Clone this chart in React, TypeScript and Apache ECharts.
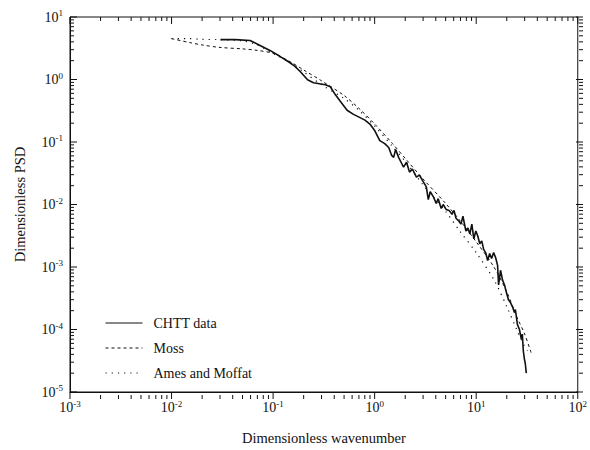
import React, { useEffect, useRef } from "react";
import * as echarts from "echarts";

// Dimensionless wavenumber / PSD
const chttK = [0.0303, 0.0424, 0.0594, 0.0744, 0.0931, 0.1165, 0.1394, 0.1632, 0.1866, 0.2184, 0.2498, 0.2858, 0.327, 0.366, 0.4094, 0.4685, 0.5358, 0.613, 0.7015, 0.8025, 0.898, 1.004, 1.124, 1.257, 1.375, 1.471, 1.539, 1.609, 1.721, 1.841, 1.926, 2.06, 2.203, 2.357, 2.578, 2.757, 3.016, 3.227, 3.375, 3.53, 3.776, 4.039, 4.225, 4.519, 4.726, 5.055, 5.406, 5.783, 6.048, 6.326, 6.766, 7.077, 7.401, 7.916, 8.28, 8.66, 9.06, 9.475, 9.91, 10.36, 10.84, 11.34, 11.86, 12.4, 12.97, 13.57, 14.19, 14.84, 15.52, 16.24, 16.61, 17.37, 18.17, 19.0, 19.87, 20.78, 21.74, 22.73, 23.78, 24.32, 25.44, 26.61, 27.83, 28.46, 29.1, 29.77, 30.44, 31.13];
const chttPsd = [4.35, 4.35, 4.2, 3.5, 2.92, 2.35, 1.96, 1.64, 1.32, 0.988, 0.886, 0.855, 0.825, 0.767, 0.574, 0.43, 0.322, 0.279, 0.25, 0.224, 0.194, 0.151, 0.105, 0.0942, 0.0815, 0.061, 0.0568, 0.0758, 0.0568, 0.0457, 0.0395, 0.0474, 0.033, 0.0368, 0.0275, 0.0296, 0.023, 0.0192, 0.012, 0.016, 0.0134, 0.0104, 0.0124, 0.00866, 0.01, 0.00835, 0.00805, 0.00697, 0.00805, 0.00603, 0.0054, 0.00485, 0.00648, 0.00377, 0.0042, 0.00338, 0.00485, 0.00282, 0.00377, 0.00314, 0.00235, 0.00262, 0.0019, 0.0017, 0.00127, 0.00164, 0.00137, 0.0017, 0.00142, 0.00106, 0.000516, 0.000887, 0.000618, 0.000516, 0.000386, 0.0003, 0.000269, 0.000233, 0.000187, 0.000209, 0.000121, 0.000101, 7.05e-5, 8.45e-5, 4.57e-5, 3.42e-5, 2.86e-5, 2.0e-5];

const mossK = [0.01, 0.015, 0.02, 0.03, 0.05, 0.07, 0.1, 0.15, 0.2, 0.3, 0.5, 0.7, 1, 1.5, 2, 3, 5, 7, 10, 15, 20, 25, 30, 35];
const mossPsd = [4.51, 3.91, 3.57, 3.26, 3.09, 2.92, 2.62, 1.89, 1.42, 0.953, 0.554, 0.346, 0.194, 0.0942, 0.0547, 0.0256, 0.0104, 0.0054, 0.00253, 0.000989, 0.0004, 0.000162, 8.45e-5, 4.1e-5];

const amesK = [0.01, 0.015, 0.02, 0.03, 0.05, 0.07, 0.1, 0.15, 0.2, 0.3, 0.5, 0.7, 1, 1.5, 2, 3, 5, 7, 10, 15, 20, 25, 30, 32];
const amesPsd = [4.51, 4.51, 4.38, 4.35, 4.15, 3.57, 2.62, 1.83, 1.32, 0.825, 0.497, 0.322, 0.18, 0.0845, 0.0491, 0.0206, 0.00777, 0.00363, 0.0017, 0.000618, 0.000233, 0.000101, 5.28e-5, 4.57e-5];

const xDecades = [-3, -2, -1, 0, 1, 2];
const yDecades = [-5, -4, -3, -2, -1, 0, 1];
const minorMultipliers = [2, 3, 4, 5, 6, 7, 8, 9];

const FONT = "Liberation Serif";
const INK = "#111";

const zip = (a: number[], b: number[]) => a.map((v, i) => [v, b[i]]);

const labelFmt = (v: number) => {
  const e = Math.round(Math.log10(v));
  return `{b|10}{s|${e}}`;
};

const richLabel = {
  b: { fontFamily: FONT, fontSize: 14, color: INK },
  s: { fontFamily: FONT, fontSize: 9, color: INK, padding: [0, 0, 8, 0] },
};

export default function App() {
  const ref = useRef<HTMLDivElement>(null);
  useEffect(() => {
    if (!ref.current) return;
    const chart = echarts.init(ref.current, undefined, { renderer: "svg" });
    const grid = { left: 70, right: 7, top: 17, bottom: 51 };
    chart.setOption({
      animation: false,
      backgroundColor: "#fff",
      grid: { ...grid, show: true, borderColor: INK, borderWidth: 1, backgroundColor: "transparent" },
      legend: {
        orient: "vertical",
        left: 105,
        top: 316,
        padding: 0,
        itemWidth: 37,
        itemHeight: 14,
        itemGap: 11,
        lineStyle: { width: 1 },
        itemStyle: { color: "transparent", borderColor: "transparent", borderWidth: 0, opacity: 0 },
        textStyle: { fontFamily: FONT, fontSize: 14, color: INK, padding: [0, 0, 0, 6] },
        data: ["CHTT data", "Moss", "Ames and Moffat"],
      },
      xAxis: {
        type: "log",
        logBase: 10,
        min: 0.001,
        max: 100,
        splitNumber: 5,
        name: "Dimensionless wavenumber",
        nameLocation: "middle",
        nameGap: 38,
        nameTextStyle: { fontFamily: FONT, fontSize: 14.5, color: INK },
        axisLine: { show: true, onZero: false, lineStyle: { color: INK } },
        axisTick: { show: false },
        splitLine: { show: false },
        axisLabel: { formatter: labelFmt, rich: richLabel, margin: 7 },
      },
      yAxis: {
        type: "log",
        logBase: 10,
        min: 0.00001,
        max: 10,
        splitNumber: 6,
        name: "Dimensionless PSD",
        nameLocation: "middle",
        nameGap: 43,
        nameTextStyle: { fontFamily: FONT, fontSize: 14.5, color: INK },
        axisLine: { show: true, lineStyle: { color: INK } },
        axisTick: { show: false },
        splitLine: { show: false },
        axisLabel: { formatter: labelFmt, rich: richLabel, margin: 7 },
      },
      series: [
        {
          name: "CHTT data",
          type: "line",
          data: zip(chttK, chttPsd),
          symbol: "none",
          lineStyle: { color: INK, width: 1.6 },
          itemStyle: { color: INK },
          z: 3,
        },
        {
          name: "Moss",
          type: "line",
          data: zip(mossK, mossPsd),
          symbol: "none",
          smooth: 0.3,
          lineStyle: { color: INK, width: 1, type: [3, 3] },
          itemStyle: { color: INK },
        },
        {
          name: "Ames and Moffat",
          type: "line",
          data: zip(amesK, amesPsd),
          symbol: "none",
          smooth: 0.3,
          lineStyle: { color: INK, width: 1.2, type: [1.2, 5] },
          itemStyle: { color: INK },
        },
      ],
    });

    // tick marks (major + log minor) on all four sides, placed through the axis scales
    const top = grid.top;
    const bottom = 450 - grid.bottom;
    const left = grid.left;
    const right = 590 - grid.right;
    const g: any[] = [];
    const tick = (x1: number, y1: number, x2: number, y2: number) =>
      g.push({ type: "line", silent: true, shape: { x1, y1, x2, y2 }, style: { stroke: INK, lineWidth: 1 } });
    xDecades.forEach((d, i) => {
      const major = chart.convertToPixel({ xAxisIndex: 0 }, Math.pow(10, d)) as number;
      tick(major, bottom, major, bottom - 7);
      tick(major, top, major, top + 7);
      if (i < xDecades.length - 1) {
        minorMultipliers.forEach((m) => {
          const px = chart.convertToPixel({ xAxisIndex: 0 }, m * Math.pow(10, d)) as number;
          tick(px, bottom, px, bottom - 4);
          tick(px, top, px, top + 4);
        });
      }
    });
    yDecades.forEach((d, i) => {
      const major = chart.convertToPixel({ yAxisIndex: 0 }, Math.pow(10, d)) as number;
      tick(left, major, left + 7, major);
      tick(right, major, right - 7, major);
      if (i < yDecades.length - 1) {
        minorMultipliers.forEach((m) => {
          const py = chart.convertToPixel({ yAxisIndex: 0 }, m * Math.pow(10, d)) as number;
          tick(left, py, left + 4, py);
          tick(right, py, right - 4, py);
        });
      }
    });
    chart.setOption({ graphic: g });
    return () => chart.dispose();
  }, []);
  return <div ref={ref} style={{ position: "fixed", left: 0, top: 0, width: 590, height: 450 }} />;
}
